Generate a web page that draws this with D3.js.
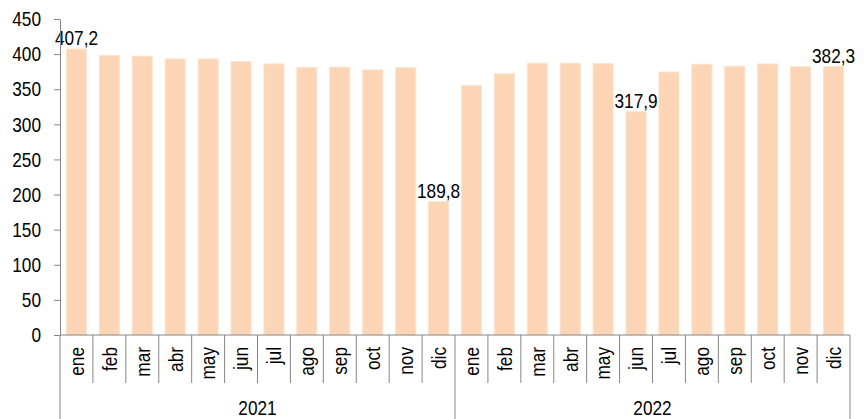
<!DOCTYPE html>
<html>
<head>
<meta charset="utf-8">
<script src="https://cdn.jsdelivr.net/npm/d3@7"></script>
<style>
  body { margin: 0; background: #fff; }
  text { font-family: "Liberation Sans", Arial, sans-serif; fill: #000; }
</style>
</head>
<body>
<script>
// Data
var years = ["2021", "2022"];
var months = ["ene", "feb", "mar", "abr", "may", "jun", "jul", "ago", "sep", "oct", "nov", "dic"];
var values2021 = [407.2, 398, 397, 393, 393, 389.5, 386, 381, 381.5, 377.5, 381, 189.8];
var values2022 = [355, 372, 387, 387, 386.5, 317.9, 374.5, 385.5, 382.7, 386, 382, 382.3];
var labelled = ["2021-ene", "2021-dic", "2022-jun", "2022-dic"];
var yTicks = [0, 50, 100, 150, 200, 250, 300, 350, 400, 450];

// Build rows
var rows = [];
years.forEach(function(yr, yi) {
    var vals = yi === 0 ? values2021 : values2022;
    months.forEach(function(m, mi) {
        rows.push({ key: yr + "-" + m, year: yr, month: m, value: vals[mi] });
    });
});

// Margins
var margin = { top: 19, bottom: 84, left: 60, right: 15 };
var W = 865, H = 419;
var width = W - margin.left - margin.right;
var height = H - margin.top - margin.bottom;

var svg = d3.select("body").append("svg")
    .attr("width", W)
    .attr("height", H)
    .append("g")
    .attr("transform", "translate(" + margin.left + "," + margin.top + ")");

var x = d3.scaleBand()
    .domain(rows.map(function(d) { return d.key; }))
    .range([0, width])
    .paddingInner(0.39)
    .paddingOuter(0.195);

var y = d3.scaleLinear()
    .domain([0, 450])
    .range([height, 0]);

var axisColor = "#868686";
var fs = "21px";

// narrow-looking text: squeeze the width like Arial Narrow
function narrow(sel) {
    sel.each(function() {
        var l = this.getComputedTextLength();
        d3.select(this).attr("textLength", l * 0.82).attr("lengthAdjust", "spacingAndGlyphs");
    });
}

// Bars
svg.selectAll(".bar")
    .data(rows)
    .enter().append("rect")
    .attr("class", "bar")
    .attr("x", function(d) { return x(d.key); })
    .attr("width", x.bandwidth())
    .attr("y", function(d) { return y(d.value); })
    .attr("height", function(d) { return height - y(d.value); })
    .attr("fill", "#FBD5B5")
    .attr("stroke", "#FDE3CD")
    .attr("stroke-width", 1);

// Value labels
svg.selectAll(".lbl")
    .data(rows.filter(function(d) { return labelled.indexOf(d.key) >= 0; }))
    .enter().append("text")
    .attr("class", "lbl")
    .attr("x", function(d) { return x(d.key) + x.bandwidth() / 2; })
    .attr("y", function(d) { return y(d.value) - 4; })
    .attr("text-anchor", "middle")
    .style("font-size", fs)
    .text(function(d) { return d3.format(".1f")(d.value).replace(".", ","); })
    .call(narrow);

// Y axis
var yAxis = svg.append("g")
    .call(d3.axisLeft(y).tickValues(yTicks).tickSize(6).tickPadding(13).tickSizeOuter(0));
yAxis.selectAll("text").style("font-size", fs).call(narrow);
yAxis.selectAll("line, path").attr("stroke", axisColor);

// X axis line
svg.append("line")
    .attr("x1", 0).attr("x2", width)
    .attr("y1", height).attr("y2", height)
    .attr("stroke", axisColor);

// Month separators
var step = x.step();
var sepG = svg.append("g");
rows.forEach(function(d, i) {
    var xs = x(d.key) - x.paddingInner() * step / 2;
    var isYear = (i % 12 === 0);
    sepG.append("line")
        .attr("x1", xs).attr("x2", xs)
        .attr("y1", height)
        .attr("y2", isYear ? H - margin.top : height + 48)
        .attr("stroke", axisColor);
});
sepG.append("line")
    .attr("x1", width).attr("x2", width)
    .attr("y1", height).attr("y2", H - margin.top)
    .attr("stroke", axisColor);

// Month labels
svg.selectAll(".mlbl")
    .data(rows)
    .enter().append("text")
    .attr("class", "mlbl")
    .attr("transform", function(d) {
        return "translate(" + (x(d.key) + x.bandwidth() / 2) + "," + (height + 12) + ") rotate(-90)";
    })
    .attr("dy", "0.35em")
    .attr("text-anchor", "end")
    .style("font-size", fs)
    .text(function(d) { return d.month; })
    .call(narrow);

// Year labels
svg.selectAll(".ylbl")
    .data(years)
    .enter().append("text")
    .attr("class", "ylbl")
    .attr("x", function(yr, i) { return width / 4 + i * width / 2; })
    .attr("y", height + 80)
    .attr("text-anchor", "middle")
    .style("font-size", fs)
    .text(function(yr) { return yr; })
    .call(narrow);
</script>
</body>
</html>
